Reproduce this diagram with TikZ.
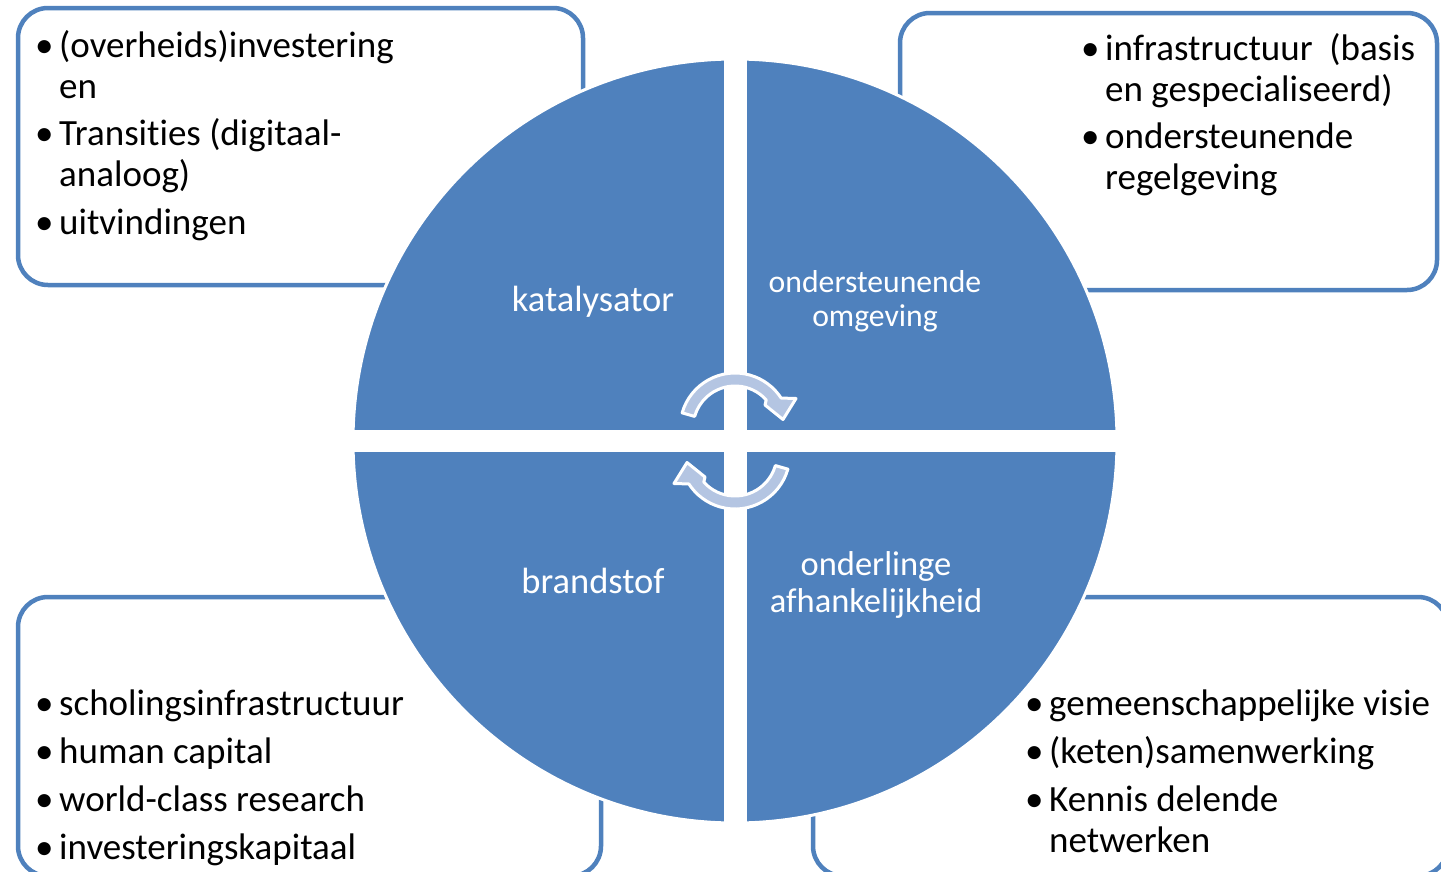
\documentclass[tikz,border=0pt]{standalone}
\usepackage{fontspec}
\setmainfont[Ligatures=NoCommon]{Carlito}
\usetikzlibrary{calc}
\definecolor{accent}{HTML}{4F81BD}
\definecolor{arrowfill}{RGB}{180,197,226}
\tikzset{
  infobox/.style={draw=accent, line width=4.5bp, rounded corners=30bp, fill=white},
  bullettext/.style={anchor=base west, inner sep=0pt, text=black, font=\fontsize{37bp}{41bp}\selectfont},
  qlabel/.style={anchor=base, inner sep=0pt, text=white},
  cyclearrow/.style={fill=arrowfill, draw=white, line width=3bp, line join=round}
}
\newcommand{\bul}{\makebox[24bp][l]{•}}
\begin{document}
\begin{tikzpicture}[x=1bp,y=-1bp]
\useasboundingbox (0,0) rectangle (1441,871);
% boxes behind the circle
\begin{scope}
  \clip (0,0) rectangle (1441,871);
  \draw[infobox] (18,8) rectangle (583,285);
  \draw[infobox] (900,13) rectangle (1437,290);
  \draw[infobox] (18,597) rectangle (601,876);
  \draw[infobox] (813,597) rectangle (1448,876);
\end{scope}
% the circle in four quadrants
\coordinate (O) at (735,441);
\fill[accent, draw=white, line width=3bp] (O) circle[radius=382];
\begin{scope}
  \clip (O) circle[radius=384];
  \fill[white] (723.5,40) rectangle (746.5,842);
  \fill[white] (340,430) rectangle (1130,452);
\end{scope}
% quadrant labels
\node[qlabel, font=\fontsize{36.5bp}{40bp}\selectfont] (kat) at (593,311.5) {katalysator};
\node[qlabel, font=\fontsize{31.7bp}{34bp}\selectfont] (omg) at (875,292) {\begin{tabular}[t]{@{}c@{}}ondersteunende\\omgeving\end{tabular}};
\node[qlabel, font=\fontsize{36.5bp}{40bp}\selectfont] (brand) at (593,593) {brandstof};
\node[qlabel, font=\fontsize{34.5bp}{37bp}\selectfont] (afh) at (876,575) {\begin{tabular}[t]{@{}c@{}}onderlinge\\afhankelijkheid\end{tabular}};
% cycle arrows
\coordinate (C) at (735,428);
\coordinate (D) at (735,454);
\path[cyclearrow] ($(C)+(-164:55)$) arc[start angle=-164, end angle=-33, radius=55]
  -- (796,398.5) -- (783,419.5) -- (765,405) -- ($(C)+(-42:42)$)
  arc[start angle=-42, end angle=-164, radius=42] -- cycle;
\path[cyclearrow] ($(D)+(16:55)$) arc[start angle=16, end angle=147, radius=55]
  -- (674,483.5) -- (687,462.5) -- (705,477) -- ($(D)+(138:42)$)
  arc[start angle=138, end angle=16, radius=42] -- cycle;
% bullet lists
\node[bullettext] (tl) at (35,57) {\begin{tabular}[t]{@{}l@{}l@{}}
\bul & (overheids)investering\\
 & en\\[6.5bp]
\bul & Transities (digitaal-\\
 & analoog)\\[6.5bp]
\bul & uitvindingen
\end{tabular}};
\node[bullettext] (tr) at (1081,60) {\begin{tabular}[t]{@{}l@{}l@{}}
\bul & infrastructuur\ \ (basis\\
 & en gespecialiseerd)\\[6.5bp]
\bul & ondersteunende\\
 & regelgeving
\end{tabular}};
\node[bullettext] (bl) at (35,715) {\begin{tabular}[t]{@{}l@{}l@{}}
\bul & scholingsinfrastructuur\\[7bp]
\bul & human capital\\[7bp]
\bul & world-class research\\[7bp]
\bul & investeringskapitaal
\end{tabular}};
\node[bullettext] (br) at (1025,715) {\begin{tabular}[t]{@{}l@{}l@{}}
\bul & gemeenschappelijke visie\\[7bp]
\bul & (keten)samenwerking\\[7bp]
\bul & Kennis delende\\
 & netwerken
\end{tabular}};
\end{tikzpicture}
\end{document}
